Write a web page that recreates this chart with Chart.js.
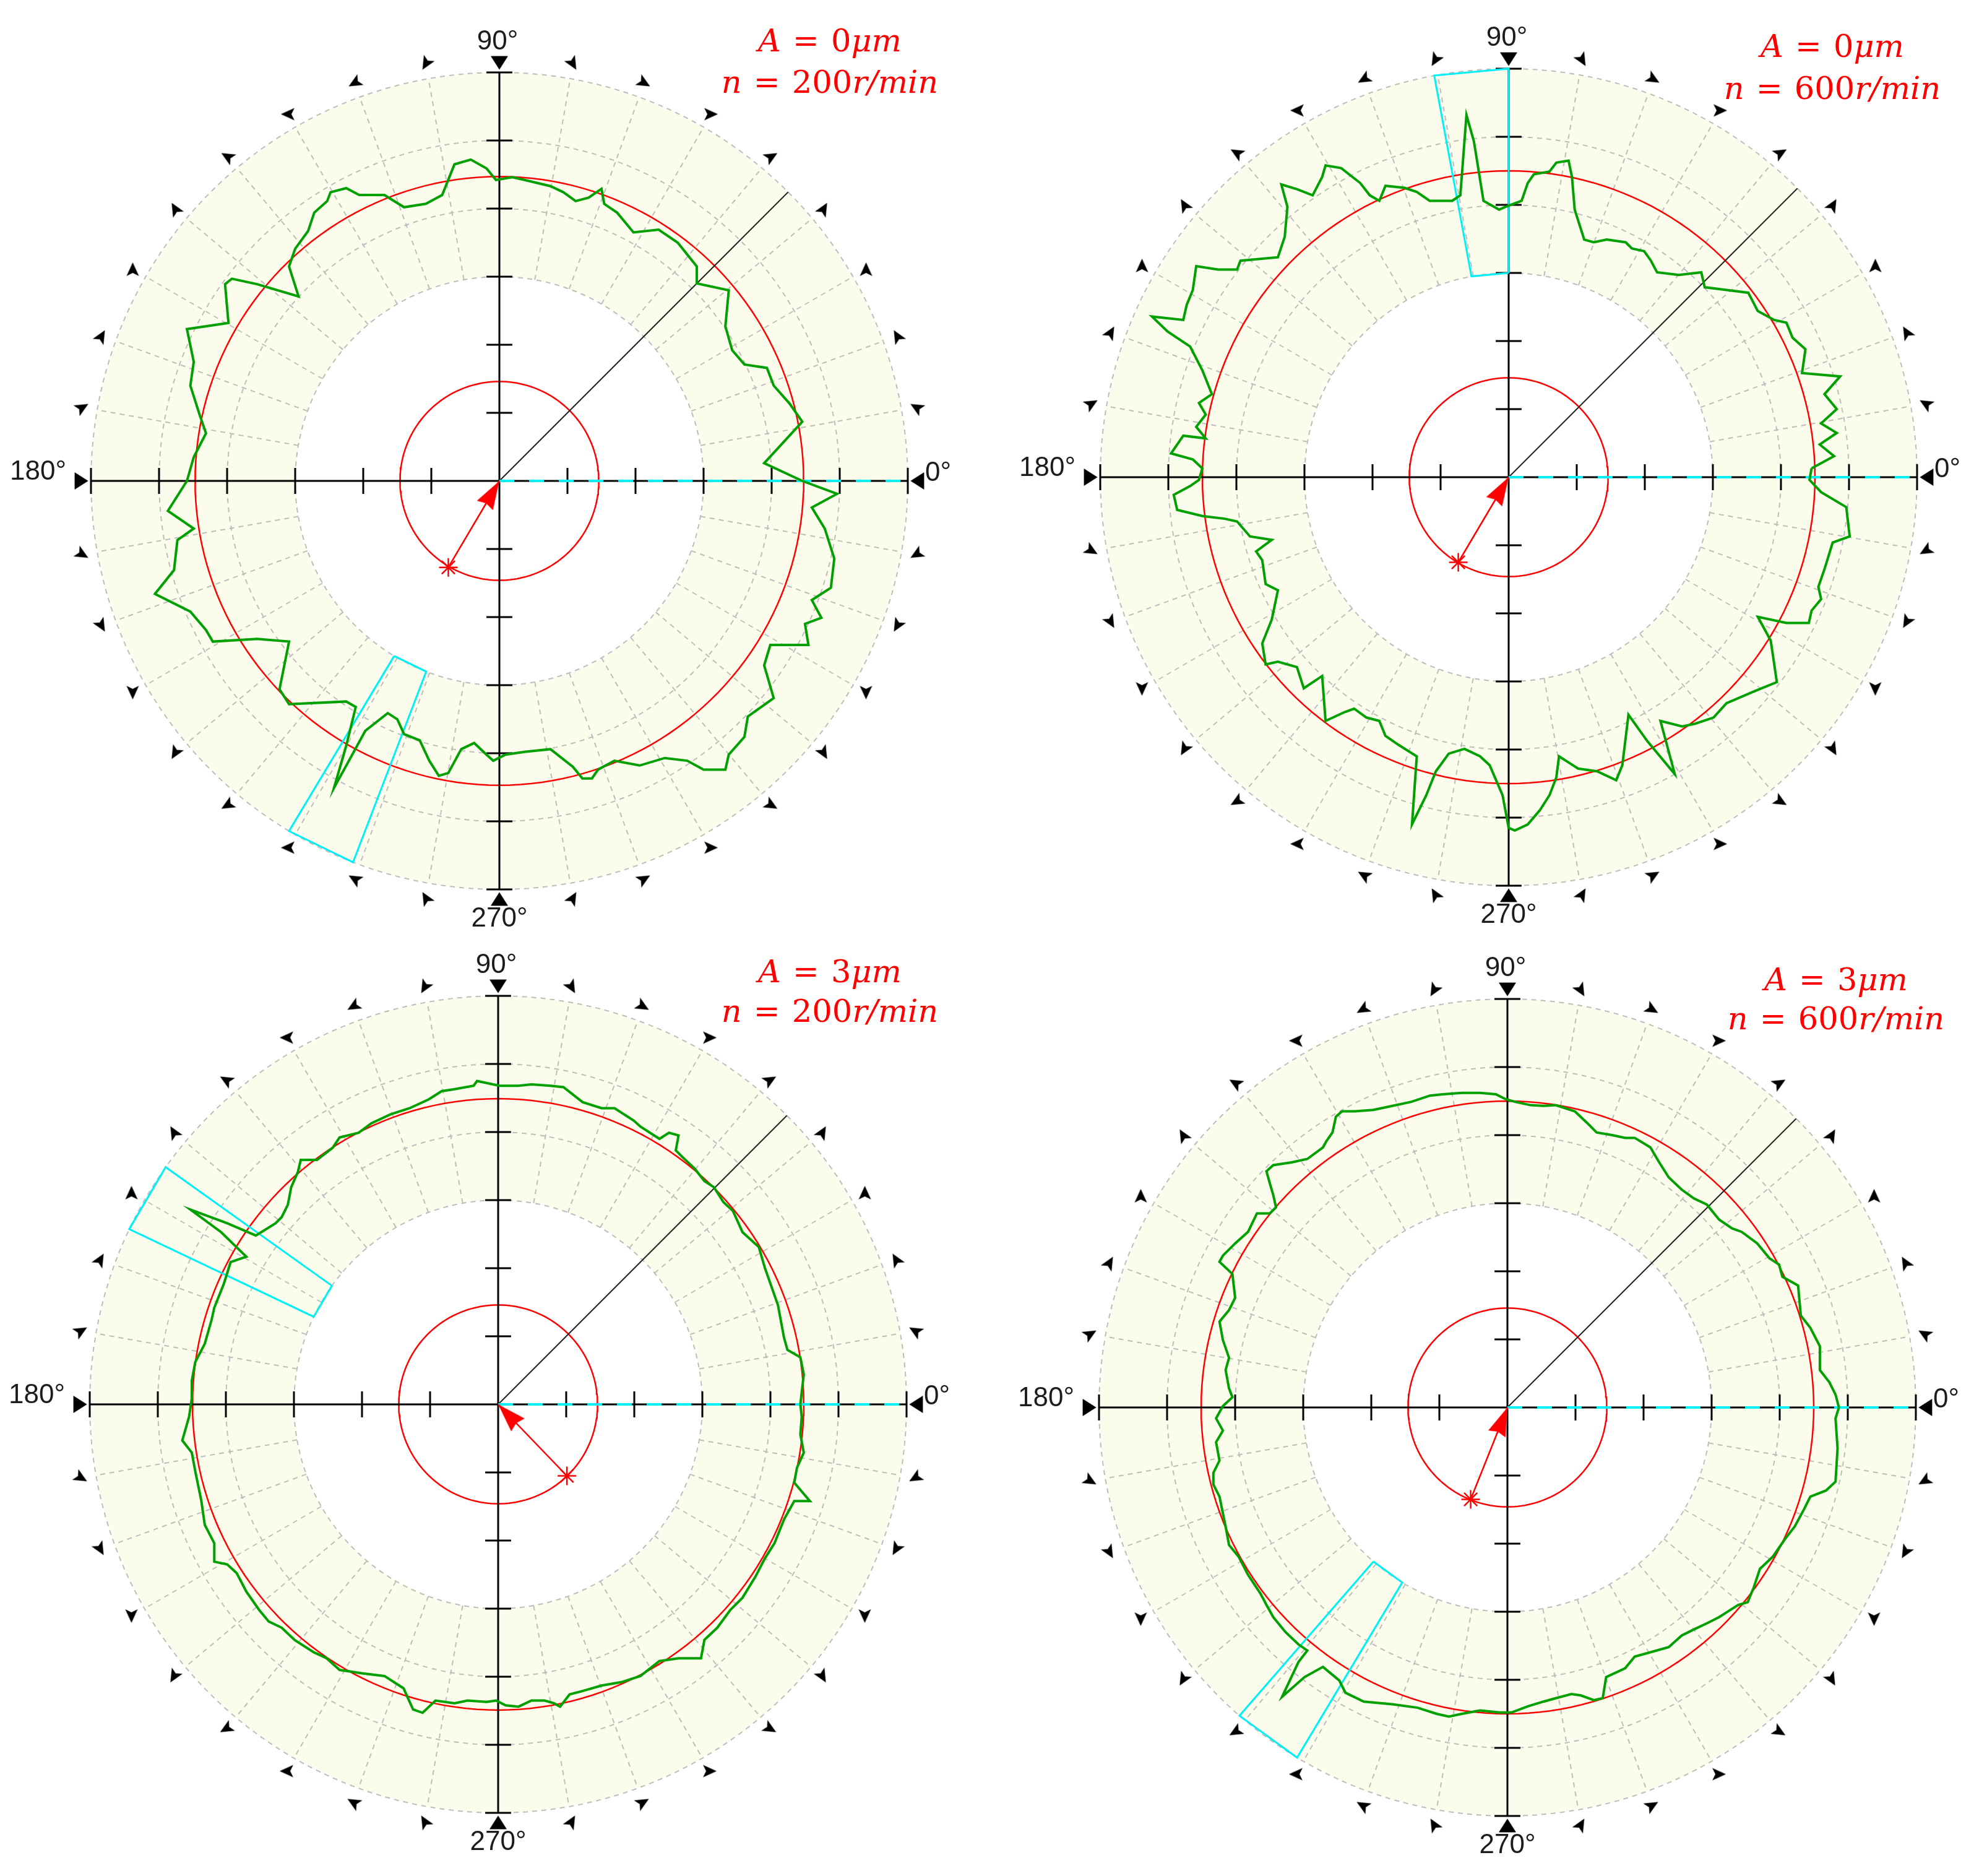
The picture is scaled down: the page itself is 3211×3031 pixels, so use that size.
<!DOCTYPE html>
<html>
<head>
<meta charset="utf-8">
<script src="https://cdn.jsdelivr.net/npm/chart.js@4.4.1/dist/chart.umd.min.js"></script>
<style>
  html, body { margin: 0; padding: 0; background: #fff; }
  body { position: relative; width: 3211px; height: 3031px; overflow: hidden; }
  canvas { position: absolute; }
  .deg { position: absolute; font-family: "Liberation Sans", Arial, sans-serif; font-size: 44px; line-height: 44px; color: #1c1c1c; white-space: nowrap; }
  .note { position: absolute; font-family: "DejaVu Serif", serif; font-size: 51px; line-height: 51px; color: #ff0000; white-space: nowrap; transform: translateX(-50%); word-spacing: 3px; }
  .note i { font-style: italic; }
</style>
</head>
<body>
<canvas id="plotTL"></canvas>
<canvas id="plotTR"></canvas>
<canvas id="plotBL"></canvas>
<canvas id="plotBR"></canvas>
<script>
// scale: one tick = 1 unit, plots run to 6 units
const UNIT_PX = 110;
const CANVAS = 1480;
const HALF = CANVAS / 2 / UNIT_PX;

const gridRadii = [3, 4, 5, 6];
const tickValues = [1, 2, 3, 4, 5, 6];
const spokeAngles = Array.from({ length: 36 }, (_, i) => i * 10);
const axisAngles = [0, 90, 180, 270];
const axisLabels = ["0°", "90°", "180°", "270°"];

const amplitudes = [0, 0, 3, 3];
const speeds = [200, 600, 200, 600];
const refRadii = [4.47, 4.5, 4.49, 4.5];
const innerRadius = 1.46;
const boxAngles = [[239, 249], [90, 100.5], [144.5, 154.6], [229, 239]];
const starPoints = [[-0.75, -1.27], [-0.74, -1.25], [1.01, -1.05], [-0.54, -1.35]];

// measured profiles (x, y in tick units)
const profileTL = [
  [4.45, 0.00], [3.89, 0.26], [4.45, 0.87], [4.26, 1.14], [4.03, 1.40], [3.93, 1.66], [3.60, 1.71], [3.42, 1.92], [3.32, 2.27], [3.37, 2.80],
  [2.90, 2.90], [2.90, 3.15], [2.62, 3.50], [2.34, 3.69], [1.97, 3.65], [1.73, 3.94], [1.54, 4.07], [1.50, 4.29], [1.31, 4.16], [1.12, 4.11],
  [0.94, 4.24], [0.75, 4.33], [0.37, 4.42], [0.19, 4.46], [-0.05, 4.42], [-0.19, 4.59], [-0.42, 4.72], [-0.66, 4.65], [-0.84, 4.20], [-1.08, 4.07],
  [-1.40, 4.02], [-1.69, 4.20], [-2.06, 4.20], [-2.25, 4.30], [-2.48, 4.24], [-2.53, 4.11], [-2.72, 3.94], [-2.81, 3.67], [-3.00, 3.41], [-3.09, 3.15],
  [-2.95, 2.71], [-3.56, 2.89], [-3.93, 2.97], [-4.03, 2.89], [-3.98, 2.32], [-4.59, 2.23], [-4.49, 1.75], [-4.54, 1.40], [-4.40, 0.96], [-4.31, 0.70],
  [-4.49, 0.35], [-4.59, 0.00], [-4.87, -0.44], [-4.49, -0.70], [-4.73, -0.87], [-4.78, -1.31], [-5.06, -1.66], [-4.54, -1.92], [-4.31, -2.19], [-4.21, -2.36],
  [-3.56, -2.32], [-3.09, -2.36], [-3.23, -3.06], [-3.09, -3.28], [-2.25, -3.24], [-2.11, -3.32], [-2.25, -3.89], [-2.43, -4.51], [-1.97, -3.67], [-1.64, -3.41],
  [-1.50, -3.50], [-1.40, -3.72], [-1.17, -3.81], [-1.03, -4.11], [-0.89, -4.33], [-0.75, -4.29], [-0.56, -3.94], [-0.37, -3.85], [-0.19, -4.02], [-0.09, -4.11],
  [0.09, -4.02], [0.37, -3.98], [0.75, -3.94], [1.08, -4.20], [1.22, -4.37], [1.36, -4.37], [1.45, -4.24], [1.69, -4.11], [2.06, -4.18], [2.43, -4.07],
  [2.76, -4.11], [3.00, -4.24], [3.32, -4.24], [3.37, -4.02], [3.60, -3.76], [3.65, -3.46], [4.03, -3.19], [3.89, -2.71], [3.98, -2.41], [4.54, -2.41],
  [4.49, -2.10], [4.73, -2.01], [4.59, -1.75], [4.87, -1.57], [4.92, -1.14], [4.78, -0.70], [4.59, -0.39], [4.96, -0.19]
];

const profileTR = [
  [4.45, 0.13], [4.78, 0.31], [4.57, 0.48], [4.82, 0.65], [4.59, 0.79], [4.82, 1.00], [4.64, 1.22], [4.87, 1.48], [4.31, 1.53], [4.36, 1.88],
  [4.17, 2.05], [4.08, 2.27], [3.90, 2.31], [3.66, 2.44], [3.52, 2.71], [3.20, 2.75], [2.88, 2.79], [2.83, 3.01], [2.50, 2.97], [2.18, 3.01],
  [2.09, 3.18], [1.99, 3.32], [1.81, 3.36], [1.72, 3.45], [1.44, 3.49], [1.25, 3.45], [1.11, 3.49], [0.97, 3.93], [0.93, 4.41], [0.88, 4.65],
  [0.70, 4.62], [0.60, 4.49], [0.37, 4.45], [0.28, 4.32], [0.19, 4.06], [-0.05, 3.97], [-0.14, 3.93], [-0.37, 4.06], [-0.51, 4.93], [-0.62, 5.32],
  [-0.71, 4.14], [-0.83, 4.06], [-1.16, 4.06], [-1.35, 4.19], [-1.53, 4.25], [-1.81, 4.28], [-1.90, 4.06], [-2.04, 4.14], [-2.18, 4.32], [-2.46, 4.54],
  [-2.69, 4.58], [-2.74, 4.41], [-2.88, 4.14], [-3.11, 4.23], [-3.34, 4.30], [-3.25, 3.97], [-3.29, 3.53], [-3.39, 3.23], [-3.94, 3.18], [-3.99, 3.05],
  [-4.27, 3.05], [-4.59, 3.10], [-4.64, 2.75], [-4.73, 2.53], [-4.78, 2.31], [-5.24, 2.36], [-5.01, 2.14], [-4.68, 1.92], [-4.50, 1.57], [-4.36, 1.22],
  [-4.55, 1.09], [-4.45, 0.92], [-4.59, 0.74], [-4.45, 0.57], [-4.78, 0.61], [-4.96, 0.35], [-4.64, 0.26], [-4.50, 0.13], [-4.55, -0.04], [-4.68, -0.13],
  [-4.92, -0.26], [-4.87, -0.48], [-4.50, -0.57], [-4.17, -0.61], [-3.99, -0.65], [-3.80, -0.87], [-3.48, -0.92], [-3.71, -1.09], [-3.62, -1.22], [-3.57, -1.57],
  [-3.39, -1.66], [-3.48, -2.09], [-3.62, -2.44], [-3.57, -2.75], [-3.39, -2.71], [-3.11, -2.79], [-3.01, -3.10], [-2.74, -2.92], [-2.69, -3.58], [-2.41, -3.45],
  [-2.27, -3.40], [-2.09, -3.53], [-1.90, -3.58], [-1.81, -3.80], [-1.62, -3.93], [-1.35, -4.10], [-1.42, -5.10], [-1.21, -4.67], [-1.07, -4.32], [-0.88, -4.06],
  [-0.65, -3.99], [-0.42, -4.10], [-0.28, -4.23], [-0.09, -4.67], [0.00, -5.15], [0.09, -5.19], [0.28, -5.10], [0.46, -4.89], [0.60, -4.67], [0.70, -4.41],
  [0.74, -4.10], [0.88, -4.19], [1.02, -4.28], [1.30, -4.32], [1.58, -4.45], [1.67, -4.23], [1.76, -3.49], [2.04, -3.88], [2.44, -4.36], [2.23, -3.58],
  [2.55, -3.66], [2.74, -3.62], [3.01, -3.53], [3.20, -3.32], [3.62, -3.14], [3.94, -3.01], [3.85, -2.40], [3.66, -2.05], [4.08, -2.14], [4.41, -2.14],
  [4.45, -1.96], [4.59, -1.79], [4.55, -1.61], [4.64, -1.35], [4.76, -0.96], [5.01, -0.87], [4.96, -0.44], [4.59, -0.22], [4.42, -0.04]
];

const profileBL = [
  [4.44, 0.00], [4.49, 0.44], [4.44, 0.69], [4.25, 0.80], [4.20, 0.98], [4.11, 1.46], [3.92, 2.00], [3.83, 2.31], [3.59, 2.53], [3.45, 2.84],
  [3.31, 2.97], [3.17, 3.19], [3.03, 3.28], [2.89, 3.46], [2.70, 3.64], [2.61, 3.73], [2.65, 3.95], [2.51, 3.99], [2.37, 3.90], [2.09, 4.08],
  [1.99, 4.17], [1.71, 4.35], [1.52, 4.35], [1.24, 4.44], [0.96, 4.66], [0.77, 4.68], [0.49, 4.70], [0.30, 4.68], [0.02, 4.68], [-0.17, 4.72],
  [-0.31, 4.75], [-0.36, 4.68], [-0.64, 4.63], [-0.83, 4.60], [-1.02, 4.48], [-1.30, 4.35], [-1.58, 4.26], [-1.86, 4.13], [-2.05, 3.99], [-2.33, 3.92],
  [-2.43, 3.77], [-2.66, 3.59], [-2.90, 3.59], [-2.94, 3.42], [-3.04, 3.19], [-3.09, 2.93], [-3.18, 2.75], [-3.27, 2.66], [-3.56, 2.48], [-3.98, 2.66],
  [-4.52, 2.86], [-4.07, 2.53], [-3.70, 2.17], [-3.93, 2.09], [-4.03, 1.77], [-4.17, 1.42], [-4.21, 1.24], [-4.31, 0.89], [-4.45, 0.62], [-4.50, 0.35],
  [-4.50, 0.09], [-4.54, -0.18], [-4.64, -0.53], [-4.50, -0.71], [-4.45, -0.98], [-4.36, -1.42], [-4.31, -1.77], [-4.17, -2.04], [-4.17, -2.31], [-3.98, -2.35],
  [-3.84, -2.48], [-3.70, -2.75], [-3.51, -3.02], [-3.37, -3.19], [-3.18, -3.28], [-2.99, -3.46], [-2.71, -3.64], [-2.52, -3.73], [-2.33, -3.90], [-2.00, -3.95],
  [-1.67, -3.99], [-1.39, -4.17], [-1.25, -4.48], [-1.11, -4.53], [-0.92, -4.35], [-0.64, -4.39], [-0.45, -4.35], [-0.17, -4.37], [-0.03, -4.35], [0.11, -4.42],
  [0.30, -4.44], [0.49, -4.35], [0.68, -4.35], [0.82, -4.39], [0.91, -4.44], [1.05, -4.26], [1.24, -4.21], [1.52, -4.13], [1.81, -4.08], [2.09, -3.99],
  [2.37, -3.77], [2.65, -3.73], [2.98, -3.73], [3.03, -3.46], [3.22, -3.28], [3.41, -3.02], [3.59, -2.84], [3.78, -2.53], [3.92, -2.26], [4.06, -2.04],
  [4.20, -1.69], [4.35, -1.42], [4.58, -1.42], [4.35, -1.15], [4.39, -0.93], [4.49, -0.71], [4.44, -0.44], [4.46, -0.18]
];

const profileBR = [
  [4.87, 0.00], [4.82, 0.19], [4.73, 0.37], [4.59, 0.55], [4.59, 0.90], [4.45, 1.17], [4.31, 1.35], [4.27, 1.79], [4.04, 1.92], [3.99, 2.10],
  [3.85, 2.19], [3.67, 2.41], [3.44, 2.58], [3.30, 2.63], [3.11, 2.76], [2.93, 2.98], [2.74, 3.07], [2.56, 3.20], [2.37, 3.38], [2.23, 3.60],
  [2.10, 3.82], [1.87, 3.96], [1.73, 3.96], [1.54, 4.00], [1.31, 4.04], [1.17, 4.18], [0.99, 4.35], [0.71, 4.44], [0.53, 4.43], [0.34, 4.44],
  [0.11, 4.49], [-0.03, 4.53], [-0.17, 4.60], [-0.40, 4.62], [-0.67, 4.62], [-0.95, 4.60], [-1.14, 4.58], [-1.41, 4.49], [-1.69, 4.43], [-1.97, 4.37],
  [-2.24, 4.35], [-2.43, 4.35], [-2.52, 4.27], [-2.57, 4.04], [-2.66, 3.91], [-2.71, 3.82], [-2.94, 3.65], [-3.17, 3.60], [-3.44, 3.56], [-3.54, 3.47],
  [-3.49, 3.29], [-3.44, 3.12], [-3.40, 2.94], [-3.49, 2.85], [-3.68, 2.85], [-3.81, 2.58], [-4.00, 2.41], [-4.18, 2.23], [-4.23, 2.14], [-4.04, 1.96],
  [-4.00, 1.61], [-4.09, 1.43], [-4.23, 1.26], [-4.18, 0.99], [-4.09, 0.73], [-4.14, 0.55], [-4.09, 0.28], [-4.04, 0.15], [-4.18, 0.02], [-4.28, -0.16],
  [-4.18, -0.34], [-4.28, -0.51], [-4.23, -0.78], [-4.32, -0.96], [-4.32, -1.13], [-4.23, -1.31], [-4.14, -1.75], [-4.09, -2.02], [-3.95, -2.19], [-3.81, -2.46],
  [-3.63, -2.73], [-3.54, -2.90], [-3.44, -3.08], [-3.26, -3.30], [-3.07, -3.48], [-2.94, -3.57], [-3.07, -3.74], [-3.31, -4.25], [-2.98, -3.96], [-2.71, -3.81],
  [-2.47, -4.01], [-2.38, -4.19], [-2.11, -4.32], [-1.69, -4.36], [-1.32, -4.41], [-1.04, -4.50], [-0.86, -4.54], [-0.67, -4.50], [-0.40, -4.45], [-0.12, -4.48],
  [0.06, -4.48], [0.30, -4.39], [0.53, -4.32], [0.71, -4.27], [0.94, -4.21], [1.08, -4.23], [1.27, -4.30], [1.40, -4.27], [1.45, -3.96], [1.73, -3.83],
  [1.87, -3.66], [2.19, -3.57], [2.37, -3.52], [2.56, -3.35], [2.74, -3.26], [2.93, -3.17], [3.11, -3.08], [3.25, -2.99], [3.39, -2.90], [3.53, -2.86],
  [3.62, -2.64], [3.71, -2.37], [3.90, -2.19], [4.08, -1.93], [4.22, -1.75], [4.36, -1.49], [4.45, -1.31], [4.68, -1.22], [4.82, -1.09], [4.85, -0.60],
  [4.82, -0.16]
];

const profiles = [profileTL, profileTR, profileBL, profileBR];

// page placement of each plot (centre in px) and its note
const layout = [
  { id: "plotTL", cx: 807, cy: 777, noteX: 1341, noteY: [83, 150] },
  { id: "plotTR", cx: 2438, cy: 771, noteX: 2961, noteY: [92, 160] },
  { id: "plotBL", cx: 805, cy: 2269, noteX: 1341, noteY: [1587, 1651] },
  { id: "plotBR", cx: 2436, cy: 2274, noteX: 2967, noteY: [1600, 1663] }
];

const COLORS = {
  band: "#fcfcec",
  grid: "#bdbdbd",
  axis: "#000000",
  red: "#ff0000",
  green: "#00a000",
  cyan: "#00f0f8"
};

function polar(r, deg) {
  const a = deg * Math.PI / 180;
  return { x: r * Math.cos(a), y: r * Math.sin(a) };
}

function circle(r) {
  const pts = [];
  for (let a = 0; a <= 360; a += 2) pts.push(polar(r, a));
  return pts;
}

// arrowhead sprite pointing up; Chart.js rotates it per point
function arrowSprite(len, width, notch, color) {
  const c = document.createElement("canvas");
  c.width = Math.ceil(width) + 2;
  c.height = Math.ceil(len) + 2;
  const g = c.getContext("2d");
  const mid = c.width / 2;
  g.fillStyle = color;
  g.beginPath();
  g.moveTo(mid, 1);
  g.lineTo(mid + width / 2, len + 1);
  g.lineTo(mid, len + 1 - notch);
  g.lineTo(mid - width / 2, len + 1);
  g.closePath();
  g.fill();
  return c;
}

const smallMark = arrowSprite(22, 20, 5, "#000");
const axisMark = arrowSprite(22, 28, 0, "#000");
const redHead = arrowSprite(46, 30, 4, "#ff0000");

const GAP = { x: null, y: null };

function lineSet(data, color, width, dash) {
  return {
    type: "scatter",
    data,
    showLine: true,
    spanGaps: false,
    borderColor: color,
    borderWidth: width,
    borderDash: dash || [],
    pointRadius: 0,
    fill: false,
    tension: 0
  };
}

function markerSet(angles, r, sprite) {
  return {
    type: "scatter",
    data: angles.map((a) => polar(r, a)),
    showLine: false,
    pointStyle: sprite,
    pointRadius: 10,
    pointRotation: angles.map((a) => 3 * a - 90)
  };
}

const bandPlugin = {
  id: "band",
  beforeDatasetsDraw(chart) {
    const { ctx, scales: { x, y } } = chart;
    const cx = x.getPixelForValue(0);
    const cy = y.getPixelForValue(0);
    const outer = x.getPixelForValue(6) - cx;
    const inner = x.getPixelForValue(3) - cx;
    ctx.save();
    ctx.fillStyle = COLORS.band;
    ctx.beginPath();
    ctx.arc(cx, cy, outer, 0, Math.PI * 2);
    ctx.arc(cx, cy, inner, 0, Math.PI * 2, true);
    ctx.fill("evenodd");
    ctx.restore();
  }
};

function buildPlot(index) {
  const place = layout[index];
  const canvas = document.getElementById(place.id);
  canvas.width = CANVAS;
  canvas.height = CANVAS;
  canvas.style.width = CANVAS + "px";
  canvas.style.height = CANVAS + "px";
  canvas.style.left = (place.cx - CANVAS / 2) + "px";
  canvas.style.top = (place.cy - CANVAS / 2) + "px";

  const gridPts = [];
  gridRadii.forEach((r) => { gridPts.push(...circle(r), GAP); });

  const spokePts = [];
  spokeAngles.forEach((a) => { spokePts.push(polar(3, a), polar(6, a), GAP); });

  const tickPts = [];
  tickValues.forEach((v) => {
    [v, -v].forEach((t) => {
      tickPts.push({ x: t, y: -0.19 }, { x: t, y: 0.19 }, GAP);
      tickPts.push({ x: -0.19, y: t }, { x: 0.19, y: t }, GAP);
    });
  });

  const axisPts = [{ x: -6, y: 0 }, { x: 6, y: 0 }, GAP, { x: 0, y: -6 }, { x: 0, y: 6 }];
  const profile = profiles[index].map(([x, y]) => ({ x, y }));
  profile.push(profile[0]);

  const [b1, b2] = boxAngles[index];
  const boxPts = [polar(3, b1), polar(6, b1), polar(6, b2), polar(3, b2), polar(3, b1)];

  const [sx, sy] = starPoints[index];
  const starLen = Math.hypot(sx, sy);
  const headAt = { x: sx / starLen * 0.21, y: sy / starLen * 0.21 };
  const headRot = Math.atan2(-sx, -sy) * 180 / Math.PI;

  const smallAngles = spokeAngles.filter((a) => a % 90 !== 0);

  // listed bottom to top, reversed so the first drawn is lowest
  const layers = [
    lineSet(gridPts, COLORS.grid, 2, [8, 7]),
    lineSet(spokePts, COLORS.grid, 2, [8, 7]),
    markerSet(smallAngles, 6.22, smallMark),
    markerSet(axisAngles, 6.14, axisMark),
    lineSet(circle(refRadii[index]), COLORS.red, 2.5),
    lineSet(circle(innerRadius), COLORS.red, 2.5),
    lineSet(axisPts, COLORS.axis, 3),
    lineSet(tickPts, COLORS.axis, 3),
    lineSet([{ x: 0, y: 0 }, polar(6, 45)], "#222", 2),
    lineSet([{ x: 0, y: 0 }, { x: 6, y: 0 }], COLORS.cyan, 4, [24, 24]),
    lineSet(boxPts, COLORS.cyan, 3),
    lineSet(profile, COLORS.green, 4),
    lineSet([{ x: sx, y: sy }, { x: 0, y: 0 }], COLORS.red, 2.5),
    {
      type: "scatter",
      data: [headAt],
      pointStyle: redHead,
      pointRadius: 10,
      pointRotation: headRot
    },
    {
      type: "scatter",
      data: [{ x: sx, y: sy }],
      pointStyle: "star",
      pointRadius: 15,
      pointBorderColor: COLORS.red,
      pointBackgroundColor: COLORS.red,
      pointBorderWidth: 2.5
    }
  ];

  const chart = new Chart(canvas, {
    type: "scatter",
    data: { datasets: layers.reverse() },
    options: {
      responsive: false,
      animation: false,
      devicePixelRatio: 1,
      events: [],
      layout: { padding: 0, autoPadding: false },
      plugins: { legend: { display: false }, tooltip: { enabled: false } },
      scales: {
        x: { type: "linear", min: -HALF, max: HALF, display: false },
        y: { type: "linear", min: -HALF, max: HALF, display: false }
      }
    },
    plugins: [bandPlugin]
  });

  addLabels(chart, place, index);
}

function addDiv(cls, html, left, top, transform) {
  const el = document.createElement("div");
  el.className = cls;
  el.innerHTML = html;
  el.style.left = left + "px";
  el.style.top = top + "px";
  if (transform) el.style.transform = transform;
  document.body.appendChild(el);
  return el;
}

function addLabels(chart, place, index) {
  const { x, y } = chart.scales;
  const left0 = place.cx - CANVAS / 2;
  const top0 = place.cy - CANVAS / 2;
  const cx = left0 + x.getPixelForValue(0);
  const cy = top0 + y.getPixelForValue(0);
  const base = 37; // baseline offset inside a 44px line box

  addDiv("deg", axisLabels[0], cx + 688, cy - base);
  addDiv("deg", axisLabels[1], cx - 3, cy - 697 - base, "translateX(-50%)");
  addDiv("deg", axisLabels[2], cx - 700, cy - 2 - base, "translateX(-100%)");
  addDiv("deg", axisLabels[3], cx, cy + 720 - base, "translateX(-50%)");

  const noteBase = 43;
  addDiv("note", `<i>A</i> = ${amplitudes[index]}<i>μm</i>`, place.noteX, place.noteY[0] - noteBase);
  addDiv("note", `<i>n</i> = ${speeds[index]}<i>r/min</i>`, place.noteX, place.noteY[1] - noteBase);
}

[0, 1, 2, 3].forEach(buildPlot);
</script>
</body>
</html>
